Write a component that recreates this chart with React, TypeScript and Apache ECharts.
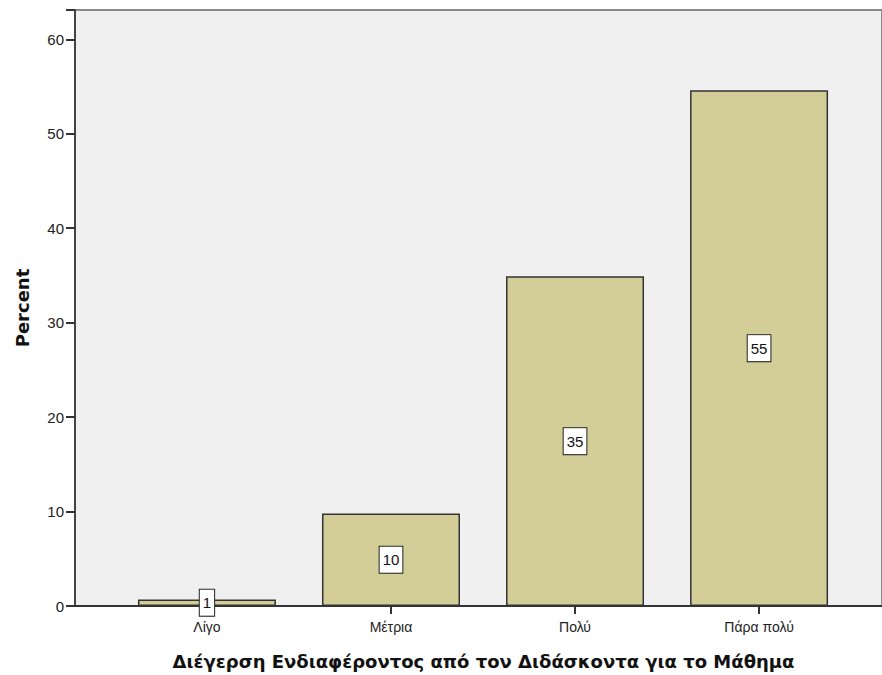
import React, { useEffect, useRef } from "react";
import * as echarts from "echarts";

const categories = ["Λίγο", "Μέτρια", "Πολύ", "Πάρα πολύ"];
const percentValues = [0.7, 9.8, 34.9, 54.6];
const yTicks = [0, 10, 20, 30, 40, 50, 60];
const xTitle = "Διέγερση Ενδιαφέροντος από τον Διδάσκοντα για το Μάθημα";
const yTitle = "Percent";

export default function App() {
  const ref = useRef<HTMLDivElement>(null);
  useEffect(() => {
    if (!ref.current) return;
    const chart = echarts.init(ref.current, null, { renderer: "svg" });
    const font = "'Liberation Sans', Arial, sans-serif";
    const titleFont = "'DejaVu Sans', Verdana, sans-serif";
    chart.setOption({
      animation: false,
      backgroundColor: "#ffffff",
      grid: {
        left: 75,
        top: 10,
        right: 0,
        bottom: 69,
        show: true,
        backgroundColor: "#f0f0f0",
        borderColor: "#8a8a8a",
        borderWidth: 2,
      },
      xAxis: {
        type: "value",
        min: -0.717,
        max: 3.668,
        name: xTitle,
        nameLocation: "middle",
        nameGap: 46,
        nameTextStyle: { fontFamily: titleFont, fontSize: 18, fontWeight: "bold", color: "#111", padding: [0, 0, 0, 10] },
        splitLine: { show: false },
        axisLine: { show: true, onZero: false, lineStyle: { color: "#333", width: 2 } },
        axisTick: { show: true, customValues: [0, 1, 2, 3], length: 8, lineStyle: { color: "#333", width: 2 } },
        axisLabel: {
          customValues: [0, 1, 2, 3],
          formatter: (v: number) => categories[Math.round(v)] ?? "",
          fontFamily: font,
          fontSize: 14,
          color: "#222",
          margin: 14,
        },
      },
      yAxis: {
        type: "value",
        min: 0,
        max: 63.1,
        interval: 10,
        name: yTitle,
        nameLocation: "middle",
        nameGap: 44,
        nameRotate: 90,
        nameTextStyle: { fontFamily: titleFont, fontSize: 18, fontWeight: "bold", color: "#111" },
        splitLine: { show: false },
        axisLine: { show: true, onZero: false, lineStyle: { color: "#444", width: 2 } },
        axisTick: { show: true, length: 9, lineStyle: { color: "#333", width: 2 } },
        axisLabel: {
          fontFamily: font,
          fontSize: 15,
          color: "#222",
          margin: 11,
          formatter: (v: number) => (yTicks.includes(v) ? String(v) : ""),
        },
      },
      series: [
        {
          type: "bar",
          data: percentValues.map((v, i) => [i, v]),
          barWidth: 138,
          itemStyle: { color: "#d3ce97", borderColor: "#333", borderWidth: 1.5 },
          label: {
            show: true,
            position: "inside",
            formatter: (p: any) => String(Math.round(p.value[1])),
            fontFamily: font,
            fontSize: 15,
            color: "#111",
            backgroundColor: "#ffffff",
            borderColor: "#222",
            borderWidth: 1,
            padding: [6, 3, 5, 3],
          },
        },
      ],
    });
    return () => chart.dispose();
  }, []);
  return <div ref={ref} style={{ width: 882, height: 675, position: "absolute", left: 0, top: 0 }} />;
}
